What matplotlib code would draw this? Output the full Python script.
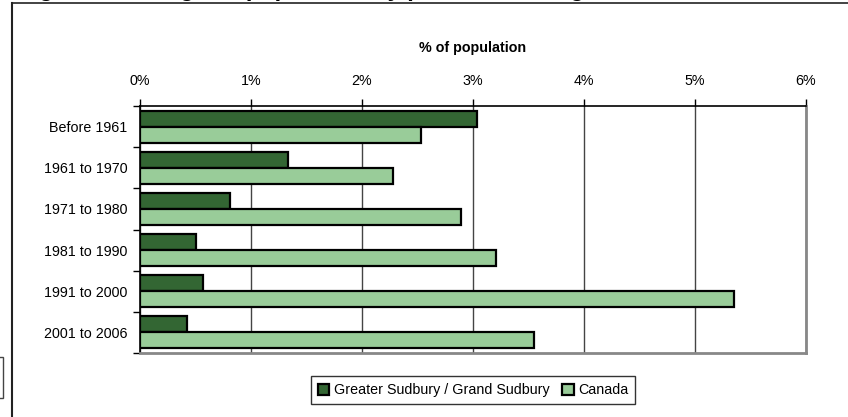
import numpy as np
import matplotlib.pyplot as plt
from matplotlib.lines import Line2D
from matplotlib.patches import Rectangle

# data
periods = ['Before 1961', '1961 to 1970', '1971 to 1980', '1981 to 1990', '1991 to 2000', '2001 to 2006']
sudbury = [3.04, 1.33, 0.81, 0.50, 0.57, 0.42]
canada = [2.53, 2.28, 2.89, 3.21, 5.35, 3.55]
series_names = ['Greater Sudbury / Grand Sudbury', 'Canada']
x_ticks = [0, 1, 2, 3, 4, 5, 6]
x_labels = ['0%', '1%', '2%', '3%', '4%', '5%', '6%']

plt.rcParams['font.family'] = ['Liberation Sans', 'DejaVu Sans']
fs = 10.3

W, H = 848, 417
fig = plt.figure(figsize=(W / 100, H / 100), dpi=100)

# plot area in pixel coords: x 140..806, y 106..353
ax = fig.add_axes([140 / W, 1 - 353 / H, 666 / W, 247 / H])

n = len(periods)
pos = np.arange(n) + 0.5
h = 0.39
ax.barh(pos - h / 2, sudbury, height=h, color='#336633', edgecolor='black', linewidth=1.6, zorder=3)
ax.barh(pos + h / 2, canada, height=h, color='#99cc99', edgecolor='black', linewidth=1.6, zorder=3)

ax.set_xlim(0, 6)
ax.set_ylim(n, 0)

ax.xaxis.tick_top()
ax.set_xticks(x_ticks)
ax.set_xticklabels(x_labels, fontsize=fs)
ax.tick_params(axis='x', direction='out', length=5, width=1, color='black', pad=8)
ax.xaxis.set_label_position('top')
ax.set_xlabel('% of population', fontsize=fs, fontweight='bold', labelpad=16)

ax.set_yticks(np.arange(n + 1))
ax.set_yticklabels([])
ax.set_yticks(pos, minor=True)
ax.set_yticklabels(periods, minor=True, fontsize=fs)
ax.tick_params(axis='y', which='major', direction='out', length=5, width=1, color='black')
ax.tick_params(axis='y', which='minor', length=0, pad=9)

ax.grid(axis='x', color='#444444', linewidth=1, zorder=0)

ax.spines['top'].set_color('black')
ax.spines['top'].set_linewidth(1.2)
ax.spines['left'].set_color('black')
ax.spines['left'].set_linewidth(1.2)
ax.spines['right'].set_color('#888888')
ax.spines['right'].set_linewidth(2)
ax.spines['bottom'].set_color('#888888')
ax.spines['bottom'].set_linewidth(2)

# legend
handles = [Rectangle((0, 0), 1, 1, facecolor='#336633', edgecolor='black', linewidth=1.6),
           Rectangle((0, 0), 1, 1, facecolor='#99cc99', edgecolor='black', linewidth=1.6)]
leg = fig.legend(handles, series_names, loc='center', bbox_to_anchor=(473 / W, 1 - 390 / H),
                 ncol=2, fontsize=fs, frameon=True, fancybox=False, borderpad=0.5,
                 handlelength=0.8, handleheight=0.8, handletextpad=0.3, columnspacing=0.9)
leg.get_frame().set_edgecolor('black')
leg.get_frame().set_linewidth(1)

# outer chart frame (cropped screenshot)
fig.add_artist(Line2D([12 / W, 1], [1 - 3 / H, 1 - 3 / H], color='#222222', linewidth=1.2))
fig.add_artist(Line2D([12 / W, 12 / W], [1 - 3 / H, 0], color='#222222', linewidth=1.5))
fig.add_artist(Rectangle((-30 / W, 1 - 398 / H), 33 / W, 41 / H, facecolor='white',
                         edgecolor='#444444', linewidth=1))

# title is cut off by the crop, only its descenders show
fig.text(18 / W, 1 + 4 / H, 'Figure 4: Immigrant population by period of immigration, 2006',
         fontsize=17, fontweight='bold', va='baseline', ha='left')

fig.savefig('out.png', dpi=100)
